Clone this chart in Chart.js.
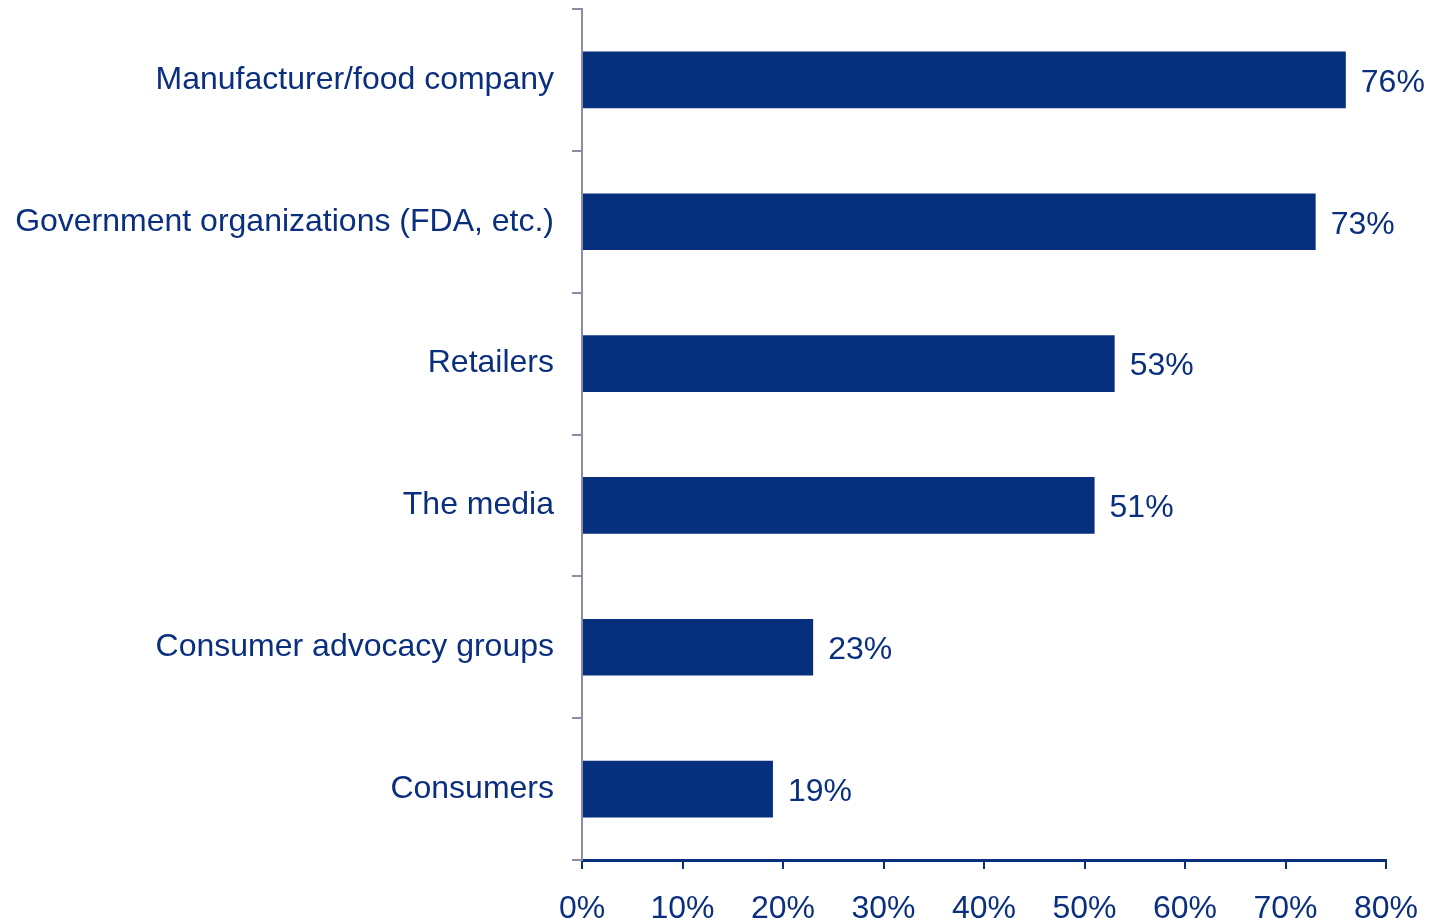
<!DOCTYPE html>
<html>
<head>
<meta charset="utf-8">
<script src="https://cdn.jsdelivr.net/npm/chart.js@4/dist/chart.umd.min.js"></script>
<style>
  html, body { margin: 0; padding: 0; background: #fff; }
  #wrap { width: 1431px; height: 922px; }
</style>
</head>
<body>
<div id="wrap"><canvas id="grafico"></canvas></div>
<script>
const categorias = [
    'Manufacturer/food company',
    'Government organizations (FDA, etc.)',
    'Retailers',
    'The media',
    'Consumer advocacy groups',
    'Consumers'
];
const valores = [76, 73, 53, 51, 23, 19];
const ticksX = [0, 10, 20, 30, 40, 50, 60, 70, 80];

const AZUL = '#062f7e';
const TEXTO = '#0b2f7f';
const FONTE = 'Liberation Sans, Arial, sans-serif';

// rotulos de valor no fim de cada barra
const rotulos = {
    id: 'rotulos',
    afterDatasetsDraw(chart) {
        const ctx = chart.ctx;
        const meta = chart.getDatasetMeta(0);
        ctx.save();
        ctx.fillStyle = TEXTO;
        ctx.font = '32px ' + FONTE;
        ctx.textAlign = 'left';
        ctx.textBaseline = 'middle';
        meta.data.forEach((bar, i) => {
            ctx.fillText(valores[i] + '%', bar.x + 15, bar.y + 3);
        });
        ctx.restore();
    }
};

new Chart(document.getElementById('grafico').getContext('2d'), {
    type: 'bar',
    data: {
        labels: categorias,
        datasets: [{
            data: valores,
            backgroundColor: AZUL,
            borderWidth: 0,
            barPercentage: 0.4,
            categoryPercentage: 1
        }]
    },
    options: {
        indexAxis: 'y',
        responsive: true,
        maintainAspectRatio: false,
        animation: false,
        layout: { padding: { top: 9, right: 45, left: 0, bottom: 0 } },
        plugins: { legend: { display: false }, tooltip: { enabled: false } },
        scales: {
            x: {
                min: 0,
                max: 80,
                afterBuildTicks(scale) {
                    scale.ticks = ticksX.map(v => ({ value: v }));
                },
                afterFit(scale) {
                    scale.height = 62;
                    scale.paddingLeft = 0;
                    scale.paddingRight = 0;
                },
                border: { display: true, color: AZUL, width: 3 },
                grid: {
                    drawOnChartArea: false,
                    drawTicks: true,
                    tickLength: 9,
                    color: AZUL,
                    lineWidth: 2
                },
                ticks: {
                    color: TEXTO,
                    font: { family: FONTE, size: 32 },
                    padding: 21,
                    maxRotation: 0,
                    autoSkip: false,
                    callback: v => v + '%'
                }
            },
            y: {
                afterFit(scale) {
                    scale.width = 582;
                    scale.paddingTop = 0;
                    scale.paddingBottom = 0;
                },
                border: { display: true, color: '#8a8ca8', width: 2 },
                grid: {
                    drawOnChartArea: false,
                    drawTicks: true,
                    offset: true,
                    tickLength: 10,
                    color: '#8a8ca8',
                    lineWidth: 2
                },
                ticks: {
                    color: TEXTO,
                    font: { family: FONTE, size: 32 },
                    padding: 18
                }
            }
        }
    },
    plugins: [rotulos]
});
</script>
</body>
</html>
